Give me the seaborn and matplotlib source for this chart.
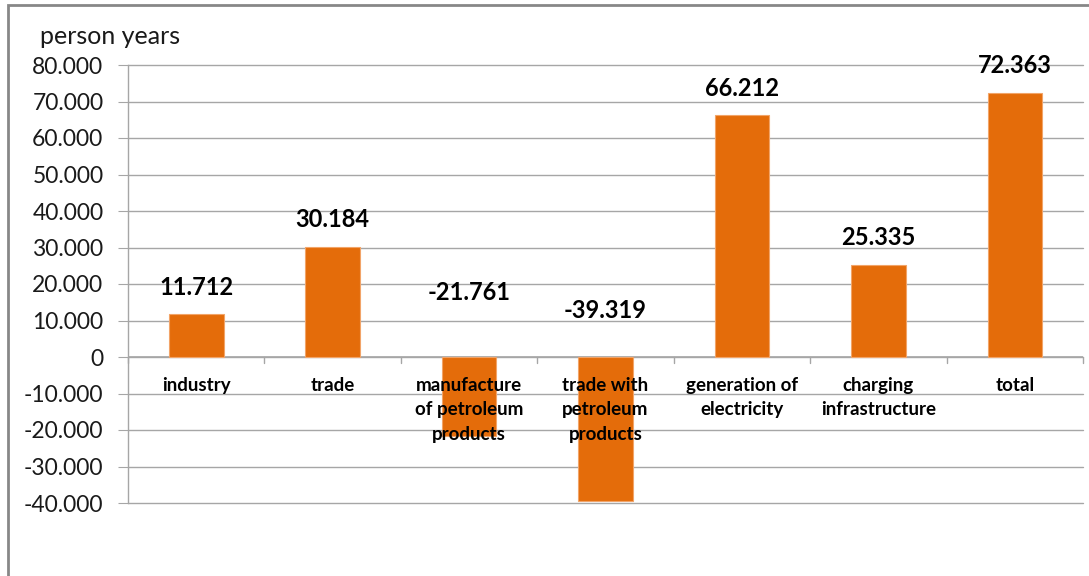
import matplotlib
matplotlib.use("Agg")
import matplotlib.pyplot as plt
import seaborn as sns
import pandas as pd
from matplotlib.patches import Rectangle
from matplotlib.ticker import FuncFormatter

categories = ["industry", "trade", "manufacture\nof petroleum\nproducts",
              "trade with\npetroleum\nproducts", "generation of\nelectricity",
              "charging\ninfrastructure", "total"]
values = [11.712, 30.184, -21.761, -39.319, 66.212, 25.335, 72.363]
value_labels = ["11.712", "30.184", "-21.761", "-39.319", "66.212", "25.335", "72.363"]
y_ticks = [-40, -30, -20, -10, 0, 10, 20, 30, 40, 50, 60, 70, 80]

sns.set_style("white")
plt.rcParams['font.family'] = ['Lato', 'DejaVu Sans']

df = pd.DataFrame({"cat": categories, "val": values})
fig = plt.figure(figsize=(10.89, 5.76), dpi=100)
ax = fig.add_axes([128/1089, 1-503/576, (1083-128)/1089, (503-65)/576])

sns.barplot(data=df, x="cat", y="val", color="#E46C0A", width=0.4,
            saturation=1, ax=ax, zorder=3, edgecolor="#F2A468", linewidth=0.8)

ax.set_ylim(-40, 80)
ax.set_xlim(-0.5, len(categories)-0.5)
def fmt(v, pos):
    v = int(round(v))
    if v == 0:
        return "0"
    return f"{v}.000"
ax.set_yticks(y_ticks)
ax.yaxis.set_major_formatter(FuncFormatter(fmt))
ax.grid(axis="y", color="#A6A6A6", linewidth=1, zorder=0)
for gl in ax.get_ygridlines():
    gl.set_clip_on(False)
ax.tick_params(axis="y", labelsize=16.5, length=7.2, width=0.8, color="#A6A6A6",
               labelcolor="#1a1a1a", direction="out", pad=10.5, left=True)
ax.set_xticks([])
ax.set_xlabel("")
ax.set_ylabel("")
for s in ["top", "right", "bottom"]:
    ax.spines[s].set_visible(False)
ax.spines["left"].set_color("#A6A6A6")
ax.spines["left"].set_linewidth(1)

# zero axis with ticks at category boundaries
ax.axhline(0, color="#A6A6A6", linewidth=1.2, zorder=2)
for b in range(len(categories)+1):
    ax.plot([b-0.5, b-0.5], [0, -1.6], color="#A6A6A6", linewidth=1, zorder=2,
            clip_on=False)

# category labels just below zero line
for i, c in enumerate(categories):
    ax.annotate(c, xy=(i, 0), xytext=(0, -14.5), textcoords="offset points",
                ha="center", va="top", fontsize=13.5, fontweight="bold",
                color="black", linespacing=1.52, zorder=5)

# value labels
neg_label_y = {2: 17.7, 3: 12.8}
for i, (v, t) in enumerate(zip(values, value_labels)):
    if v >= 0:
        ax.annotate(t, xy=(i, v), xytext=(0, 19.5), textcoords="offset points",
                    ha="center", va="center", fontsize=17, fontweight="bold",
                    color="black", zorder=5)
    else:
        ax.text(i, neg_label_y[i], t, ha="center", va="center", fontsize=17,
                fontweight="bold", color="black", zorder=5)

fig.text(40/1089, 1-37/576, "person years", fontsize=18, color="#1a1a1a",
         ha="left", va="center")

fig.patches.append(Rectangle((8/1089, -0.05), 1.1, 1-5/576+0.05,
                             transform=fig.transFigure, fill=False,
                             edgecolor="#878787", linewidth=2))

fig.savefig("out.png", dpi=100)
